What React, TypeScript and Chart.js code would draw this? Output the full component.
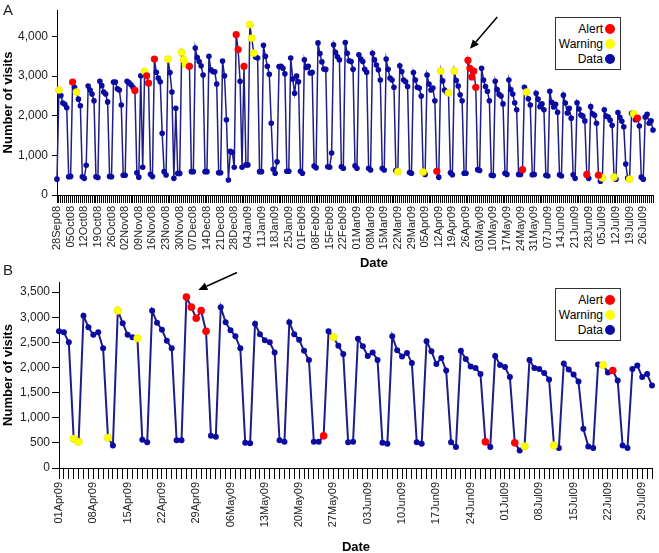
import React, { useEffect, useRef } from 'react';
import { Chart, registerables } from 'chart.js';

Chart.register(...registerables);

const FONT = '"Liberation Sans", Arial, Helvetica, sans-serif';

// ---------- tick labels (one every 7 days) ----------
const aTickLabels = [
  '28Sep08', '05Oct08', '12Oct08', '19Oct08', '26Oct08', '02Nov08', '09Nov08', '16Nov08', '23Nov08',
  '30Nov08', '07Dec08', '14Dec08', '21Dec08', '28Dec08', '04Jan09', '11Jan09', '18Jan09', '25Jan09',
  '01Feb09', '08Feb09', '15Feb09', '22Feb09', '01Mar09', '08Mar09', '15Mar09', '22Mar09', '29Mar09',
  '05Apr09', '12Apr09', '19Apr09', '26Apr09', '03May09', '10May09', '17May09', '24May09', '31May09',
  '07Jun09', '14Jun09', '21Jun09', '28Jun09', '05Jul09', '12Jul09', '19Jul09', '26Jul09',
];
const bTickLabels = [
  '01Apr09', '08Apr09', '15Apr09', '22Apr09', '29Apr09', '06May09', '13May09', '20May09', '27May09',
  '03Jun09', '10Jun09', '17Jun09', '24Jun09', '01Jul09', '08Jul09', '15Jul09', '22Jul09', '29Jul09',
];
const aYTicks = [0, 1000, 2000, 3000, 4000];
const bYTicks = [0, 500, 1000, 1500, 2000, 2500, 3000, 3500];

// ---------- daily visits, 28Sep08 .. 31Mar09 ----------
const visitsSep08toMar09 = [
  400, 2650, 2510, 2320, 2290, 2200, 460,
  470, 2850, 2720, 2600, 2420, 2250, 460,
  420, 750, 2750, 2650, 2550, 2380, 460,
  440, 2870, 2760, 2600, 2550, 2350, 470,
  460, 2850, 2850, 2680, 2650, 2270, 500,
  500, 2870, 2830, 2780, 2720, 2640, 560,
  450, 3010, 700, 3115, 3010, 2825, 525,
  465, 3430, 3100, 2950, 2860, 1560, 590,
  505, 3430, 3090, 2600, 420, 2190, 545,
  545, 3600, 3420, 3300, 3270, 3250, 590,
  590, 3710, 3470, 3370, 3260, 3030, 590,
  590, 3500, 3160, 3115, 3110, 2800, 560,
  560, 3380, 3010, 1900, 380, 1100, 1080,
  700, 4050, 3670, 2870, 700, 3250, 760,
  760, 4300, 3960, 3580, 3480, 3460, 590,
  590, 3780, 3500, 3250, 3050, 1810, 650,
  550, 840, 3240, 3250, 3200, 3060, 600,
  600, 3460, 2930, 2570, 3000, 2860, 600,
  550, 3415, 3220, 3250, 3080, 3095, 730,
  690, 3840, 3570, 3360, 3180, 3170, 715,
  700, 1060, 3790, 3600, 3490, 3410, 715,
  675, 3850, 3580, 3390, 3370, 3175, 740,
  675, 3540, 3430, 3370, 3175, 3100, 675,
  630, 3580, 3410, 3280, 3160, 2900, 675,
  630, 3430, 3175, 2950, 2900, 2720, 615,
  590, 3260, 3115, 2900, 2860, 2740, 565,
  550, 3090, 2900,
];

// ---------- daily visits, 01Apr09 .. 31Jul09 ----------
const visitsApr09toJul09 = [
  2720, 2700, 2500, 580, 520, 3030, 2800, 2650, 2700, 2380,
  600, 450, 3130, 2880, 2650, 2600, 2580, 560, 510, 3130,
  2890, 2750, 2530, 2380, 550, 550, 3400, 3200, 2980, 3130,
  2720, 640, 620, 3200, 2900, 2740, 2620, 2380, 500, 490,
  2870, 2660, 2540, 2500, 2300, 550, 520, 2900, 2660, 2550,
  2330, 2150, 520, 520, 640, 2720, 2600, 2430, 2270, 510,
  520, 2570, 2420, 2230, 2300, 2150, 500, 480, 2620, 2340,
  2220, 2290, 2090, 510, 480, 2520, 2320, 2070, 2190, 1940,
  510, 420, 2330, 2170, 2020, 1990, 1870, 520, 420, 2230,
  2050, 2010, 1810, 500, 350, 430, 2150, 1990, 1970, 1890,
  1760, 450, 400, 2080, 1960, 1860, 1720, 780, 430, 400,
  2060, 2050, 1900, 1940, 1740, 450, 400, 1970, 2040, 1810,
  1870, 1640,
];

// ---------- flagged days (day index within each panel) ----------
const aAlertDays = [8, 40, 46, 47, 50, 68, 92, 93, 96, 195, 211, 212, 213, 214, 215, 239, 272, 278, 298];
const aWarningDays = [1, 10, 45, 57, 64, 65, 66, 99, 100, 101, 175, 188, 197, 201, 204, 241, 280, 286, 294, 296];
const bAlertDays = [26, 27, 28, 29, 30, 54, 87, 93, 113];
const bWarningDays = [3, 4, 10, 12, 16, 56, 95, 101, 111];

const aVisits = [...visitsSep08toMar09, ...visitsApr09toJul09];
const bVisits = visitsApr09toJul09;

const LINE = '#1e1e84';
const DOT = '#0b0ba2';
const RED = '#ff0000';
const YELLOW = '#ffff00';

function dayLabels(count: number, ticks: string[]) {
  return Array.from({ length: count }, (_, i) => (i % 7 === 0 ? ticks[i / 7] ?? '' : ''));
}

function pick(values: number[], days: number[]) {
  const out: (number | null)[] = values.map(() => null);
  days.forEach((d) => {
    out[d] = values[d];
  });
  return out;
}

const arrowPlugin = {
  id: 'pointerArrow',
  afterDatasetsDraw(chart: any, _args: any, opts: any) {
    if (!opts || opts.index == null) return;
    const el = chart.getDatasetMeta(0).data[opts.index];
    if (!el) return;
    const ctx = chart.ctx;
    const hx = el.x + opts.head[0];
    const hy = el.y + opts.head[1];
    const tx = el.x + opts.tail[0];
    const ty = el.y + opts.tail[1];
    const ang = Math.atan2(hy - ty, hx - tx);
    const L = 9;
    const W = 4;
    const bx = hx - L * Math.cos(ang);
    const by = hy - L * Math.sin(ang);
    ctx.save();
    ctx.strokeStyle = '#000';
    ctx.fillStyle = '#000';
    ctx.lineWidth = 1.5;
    ctx.beginPath();
    ctx.moveTo(tx, ty);
    ctx.lineTo(bx, by);
    ctx.stroke();
    ctx.beginPath();
    ctx.moveTo(hx, hy);
    ctx.lineTo(bx + W * Math.sin(ang), by - W * Math.cos(ang));
    ctx.lineTo(bx - W * Math.sin(ang), by + W * Math.cos(ang));
    ctx.closePath();
    ctx.fill();
    ctx.restore();
  },
};

interface PanelSpec {
  values: number[];
  ticks: string[];
  yTicks: number[];
  alerts: number[];
  warnings: number[];
  yMax: number;
  padTop: number;
  padRight: number;
  yWidth: number;
  xHeight: number;
  xTickLen: number;
  yTickLen: number;
  yTickPad: number;
  lineWidth: number;
  dotR: number;
  flagR: number;
  arrow: { index: number; head: number[]; tail: number[] };
}

function buildConfig(p: PanelSpec): any {
  return {
    type: 'line',
    data: {
      labels: dayLabels(p.values.length, p.ticks),
      datasets: [
        {
          label: 'Data',
          data: p.values,
          borderColor: LINE,
          borderWidth: p.lineWidth,
          pointRadius: p.dotR,
          pointBackgroundColor: DOT,
          pointBorderWidth: 0,
          tension: 0,
          clip: false,
          order: 2,
        },
        {
          label: 'Warning',
          data: pick(p.values, p.warnings),
          showLine: false,
          pointRadius: p.flagR,
          pointBackgroundColor: YELLOW,
          pointBorderColor: '#d8d800',
          pointBorderWidth: 0.5,
          clip: false,
          order: 1,
        },
        {
          label: 'Alert',
          data: pick(p.values, p.alerts),
          showLine: false,
          pointRadius: p.flagR,
          pointBackgroundColor: RED,
          pointBorderWidth: 0,
          clip: false,
          order: 0,
        },
      ],
    },
    plugins: [arrowPlugin],
    options: {
      animation: false,
      responsive: false,
      events: [],
      layout: { padding: { top: p.padTop, right: p.padRight, bottom: 0, left: 0 } },
      plugins: {
        legend: { display: false },
        tooltip: { enabled: false },
        pointerArrow: p.arrow,
      },
      scales: {
        x: {
          type: 'category',
          grid: {
            display: true,
            drawOnChartArea: false,
            drawTicks: true,
            tickLength: p.xTickLen,
            color: '#000',
            lineWidth: 1,
          },
          border: { display: true, color: '#000', width: 1 },
          ticks: {
            autoSkip: false,
            maxRotation: 90,
            minRotation: 90,
            padding: 3,
            color: '#222',
            font: { family: FONT, size: 11 },
          },
          title: { display: false },
          afterFit: (s: any) => {
            s.height = p.xHeight;
            s.paddingLeft = 0;
            s.paddingRight = 0;
          },
        },
        y: {
          min: 0,
          max: p.yMax,
          grid: {
            display: true,
            drawOnChartArea: false,
            drawTicks: true,
            tickLength: p.yTickLen,
            color: '#000',
          },
          border: { display: true, color: '#000', width: 1 },
          afterBuildTicks: (s: any) => {
            s.ticks = p.yTicks.map((v) => ({ value: v }));
          },
          ticks: {
            padding: p.yTickPad,
            color: '#222',
            font: { family: FONT, size: 12 },
            callback: (v: any) => Number(v).toLocaleString('en-US'),
          },
          title: {
            display: true,
            text: 'Number of visits',
            color: '#000',
            padding: { top: 2, bottom: 0 },
            font: { family: FONT, size: 13, weight: 'bold', lineHeight: 1 },
          },
          afterFit: (s: any) => {
            s.width = p.yWidth;
            s.paddingTop = 0;
            s.paddingBottom = 0;
          },
        },
      },
    },
  };
}

const panelA: PanelSpec = {
  values: aVisits,
  ticks: aTickLabels,
  yTicks: aYTicks,
  alerts: aAlertDays,
  warnings: aWarningDays,
  yMax: 4670,
  padTop: 10,
  padRight: 6,
  yWidth: 57,
  xHeight: 75,
  xTickLen: 8,
  yTickLen: 5,
  yTickPad: 4,
  lineWidth: 1.5,
  dotR: 2.8,
  flagR: 3.6,
  arrow: { index: 211, head: [2, -11.5], tail: [29.3, -43.2] },
};

const panelB: PanelSpec = {
  values: bVisits,
  ticks: bTickLabels,
  yTicks: bYTicks,
  alerts: bAlertDays,
  warnings: bWarningDays,
  yMax: 3700,
  padTop: 14,
  padRight: 7,
  yWidth: 59,
  xHeight: 85,
  xTickLen: 11,
  yTickLen: 7,
  yTickPad: 2,
  lineWidth: 2,
  dotR: 3,
  flagR: 3.8,
  arrow: { index: 26, head: [11.9, -7.1], tail: [50.6, -24.6] },
};

const legendItems = [
  { label: 'Alert', color: RED },
  { label: 'Warning', color: YELLOW },
  { label: 'Data', color: DOT },
];

function Legend({ left, top }: { left: number; top: number }) {
  return (
    <div
      style={{
        position: 'absolute',
        left,
        top,
        width: 66,
        height: 53,
        boxSizing: 'border-box',
        border: '1.5px solid #333',
        background: '#fff',
        fontFamily: FONT,
        fontSize: 12,
        color: '#000',
      }}
    >
      {legendItems.map((it, k) => (
        <div
          key={it.label}
          style={{
            position: 'absolute',
            right: 5,
            top: 4 + k * 15,
            height: 14,
            display: 'flex',
            alignItems: 'center',
            gap: 2,
            whiteSpace: 'nowrap',
          }}
        >
          <span>{it.label}</span>
          <span
            style={{
              display: 'inline-block',
              width: 10,
              height: 10,
              borderRadius: '50%',
              background: it.color,
            }}
          />
        </div>
      ))}
    </div>
  );
}

function AxisTitle({ cx, cy, text }: { cx: number; cy: number; text: string }) {
  return (
    <div
      style={{
        position: 'absolute',
        left: cx - 50,
        top: cy - 8,
        width: 100,
        height: 16,
        lineHeight: '16px',
        textAlign: 'center',
        fontFamily: FONT,
        fontSize: 13,
        fontWeight: 'bold',
        color: '#000',
      }}
    >
      {text}
    </div>
  );
}

export default function App() {
  const aRef = useRef<HTMLCanvasElement>(null);
  const bRef = useRef<HTMLCanvasElement>(null);

  useEffect(() => {
    document.body.style.margin = '0';
    const a = new Chart(aRef.current as HTMLCanvasElement, buildConfig(panelA));
    const b = new Chart(bRef.current as HTMLCanvasElement, buildConfig(panelB));
    return () => {
      a.destroy();
      b.destroy();
    };
  }, []);

  return (
    <div style={{ position: 'relative', width: 659, height: 553, background: '#fff', overflow: 'hidden' }}>
      <canvas
        ref={aRef}
        width={659}
        height={270}
        style={{ position: 'absolute', left: 0, top: 0, width: 659, height: 270 }}
      />
      <canvas
        ref={bRef}
        width={659}
        height={285}
        style={{ position: 'absolute', left: 0, top: 268, width: 659, height: 285 }}
      />
      <div style={{ position: 'absolute', left: 3, top: 1, fontFamily: FONT, fontSize: 15, color: '#222' }}>A</div>
      <div style={{ position: 'absolute', left: 3, top: 261, fontFamily: FONT, fontSize: 15, color: '#222' }}>B</div>
      <AxisTitle cx={374} cy={263} text="Date" />
      <AxisTitle cx={356} cy={547} text="Date" />
      <Legend left={555} top={17} />
      <Legend left={555} top={288} />
    </div>
  );
}
